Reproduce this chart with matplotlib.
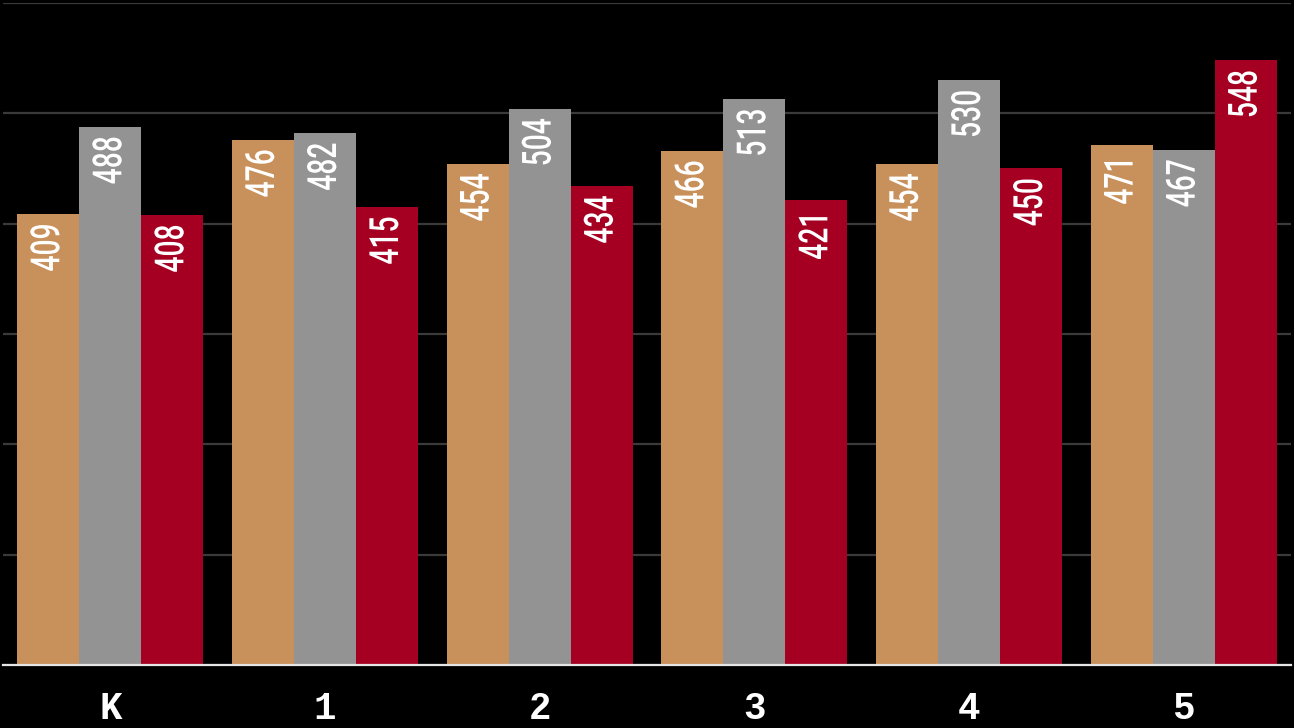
import numpy as np
import matplotlib.pyplot as plt
import matplotlib.transforms as mtransforms
from matplotlib.patheffects import AbstractPathEffect

# -------------------------------------------------------------------------
# Data
# -------------------------------------------------------------------------
grades = ['K', '1', '2', '3', '4', '5']
series_a = [409, 476, 454, 466, 454, 471]
series_b = [488, 482, 504, 513, 530, 467]
series_c = [408, 415, 434, 421, 450, 548]
colors = ['#C8905A', '#939393', '#A50021']


class Squeeze(AbstractPathEffect):
  # narrows the glyphs along the text direction, keeping the text end fixed
  def __init__(self, factor):
    super().__init__()
    self.factor = factor

  def draw_path(self, renderer, gc, tpath, affine, rgbFace=None):
    ext = tpath.get_extents()
    squeeze = (mtransforms.Affine2D()
               .translate(-ext.x1, 0)
               .scale(self.factor, 1)
               .translate(ext.x1, 0))
    renderer.draw_path(gc, tpath, squeeze + affine, rgbFace)


# -------------------------------------------------------------------------
# Plot
# -------------------------------------------------------------------------
fig = plt.figure(figsize=(12.94, 7.28), dpi=100, facecolor='black')
ax = fig.add_axes([3 / 1294, 1 - 665 / 728, 1288 / 1294, 662 / 728], facecolor='black')

x = np.arange(len(grades))
width = 0.289

for i, (vals, col) in enumerate(zip([series_a, series_b, series_c], colors)):
  bars = ax.bar(x + (i - 1) * width, vals, width, color=col, zorder=2)
  for b, v in zip(bars, vals):
    ax.annotate(
      str(v),
      (b.get_x() + b.get_width() / 2, b.get_height()),
      xytext=(0, -6.5), textcoords='offset points',
      rotation=90, rotation_mode='anchor', ha='right', va='center',
      color='white', fontsize=29, family=['Roboto', 'DejaVu Sans'],
      fontweight='medium',
      path_effects=[Squeeze(0.70)],
      zorder=3,
    )

ax.set_xlim(-0.5, len(grades) - 0.5)
ax.set_ylim(0, 600)
ax.set_yticks(np.arange(0, 601, 100))
ax.yaxis.grid(True, color='#3a3a3a', linewidth=1.6, zorder=0)
ax.set_axisbelow(True)
ax.tick_params(axis='y', left=False, labelleft=False)

ax.set_xticks(x)
ax.set_xticklabels(grades, family=['Liberation Mono', 'DejaVu Sans Mono'],
                   fontweight='bold', fontsize=27, color='white')
ax.tick_params(axis='x', length=0, pad=19)

for side in ['top', 'left', 'right']:
  ax.spines[side].set_visible(False)
ax.spines['bottom'].set_color('#e6e6e6')
ax.spines['bottom'].set_linewidth(1.6)
ax.spines['bottom'].set_zorder(4)

fig.savefig('out.png', dpi=100, facecolor='black')
